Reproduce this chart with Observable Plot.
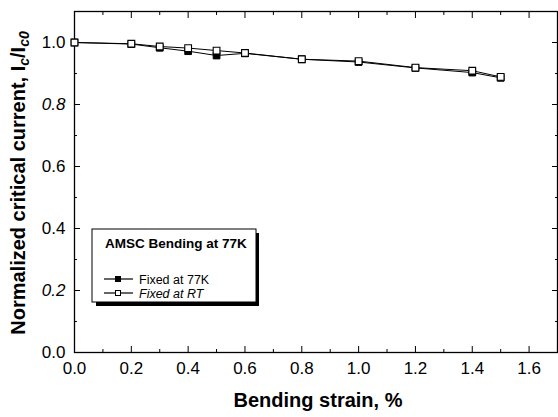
<!DOCTYPE html>
<html>
<head>
<meta charset="utf-8">
<script src="https://cdn.jsdelivr.net/npm/d3@7"></script>
<script src="https://cdn.jsdelivr.net/npm/@observablehq/plot@0.6"></script>
<style>
  html, body { margin: 0; padding: 0; background: #fff; }
  #chart svg { display: block; }
</style>
</head>
<body>
<div id="chart"></div>
<script>
// Data
const strain = [0, 0.2, 0.3, 0.4, 0.5, 0.6, 0.8, 1.0, 1.2, 1.4, 1.5];
const fixed77K = [1.0, 0.995, 0.983, 0.972, 0.958, 0.965, 0.946, 0.937, 0.918, 0.903, 0.886];
const fixedRT = [1.0, 0.996, 0.987, 0.982, 0.974, 0.966, 0.946, 0.940, 0.919, 0.909, 0.889];
const xTicks = [0, 0.2, 0.4, 0.6, 0.8, 1.0, 1.2, 1.4, 1.6];
const xMinor = [0.1, 0.3, 0.5, 0.7, 0.9, 1.1, 1.3, 1.5];
const yTicks = [0, 0.2, 0.4, 0.6, 0.8, 1.0];
const yMinor = [0.1, 0.3, 0.5, 0.7, 0.9];
const italicYLabels = ["0.8", "0.2"];
const seriesNames = ["Fixed at 77K", "Fixed at RT"];
const legendTitle = "AMSC Bending at 77K";

const d77 = strain.map((s, i) => ({x: s, y: fixed77K[i]}));
const dRT = strain.map((s, i) => ({x: s, y: fixedRT[i]}));

const font = "'Liberation Sans', Arial, Helvetica, sans-serif";

const chart = Plot.plot({
  width: 558,
  height: 417,
  marginLeft: 74,
  marginRight: 1,
  marginTop: 11,
  marginBottom: 65,
  style: {fontFamily: font, fontSize: "17px", background: "#fff", color: "#000"},
  x: {domain: [0, 1.7]},
  y: {domain: [0, 1.1]},
  marks: [
    Plot.axisX({ticks: xTicks, tickSize: -6, tickFormat: d => d.toFixed(1), fontSize: 17, label: null}),
    Plot.axisX({ticks: xMinor, tickSize: -3, text: null, label: null}),
    Plot.axisX({anchor: "top", ticks: xTicks, tickSize: -6, text: null, label: null}),
    Plot.axisX({anchor: "top", ticks: xMinor, tickSize: -3, text: null, label: null}),
    Plot.axisY({ticks: yTicks, tickSize: -6, tickFormat: d => d.toFixed(1), fontSize: 17, label: null}),
    Plot.axisY({ticks: yMinor, tickSize: -3, text: null, label: null}),
    Plot.axisY({anchor: "right", ticks: yTicks, tickSize: -6, text: null, label: null}),
    Plot.axisY({anchor: "right", ticks: yMinor, tickSize: -3, text: null, label: null}),
    Plot.frame({stroke: "#000", strokeWidth: 1.3}),
    Plot.line(d77, {x: "x", y: "y", stroke: "#000", strokeWidth: 1}),
    Plot.dot(d77, {x: "x", y: "y", symbol: "square", r: 3.8, fill: "#000", stroke: "#000", strokeWidth: 1}),
    Plot.line(dRT, {x: "x", y: "y", stroke: "#000", strokeWidth: 1}),
    Plot.dot(dRT, {x: "x", y: "y", symbol: "square", r: 3.8, fill: "#fff", stroke: "#000", strokeWidth: 1.1})
  ]
});

document.getElementById("chart").appendChild(chart);

const svg = d3.select(chart);

// italic y tick labels as in the reference
svg.selectAll('g[aria-label="y-axis tick label"] text')
  .filter(function() { return italicYLabels.includes(this.textContent.trim()); })
  .style("font-style", "italic");

// X axis label
svg.append("text")
  .attr("x", 318).attr("y", 407)
  .attr("text-anchor", "middle")
  .attr("font-family", font).attr("font-size", 20).attr("font-weight", "bold")
  .text("Bending strain, %");

// Y axis label with subscripts
const yl = svg.append("text")
  .attr("transform", "translate(25,183) rotate(-90)")
  .attr("text-anchor", "middle")
  .attr("font-family", font).attr("font-size", 20).attr("font-weight", "bold");
yl.append("tspan").text("Normalized critical current, I");
yl.append("tspan").attr("font-size", 14).attr("font-style", "italic").attr("dy", 4).text("c");
yl.append("tspan").attr("dy", -4).text("/I");
yl.append("tspan").attr("font-size", 14).attr("font-style", "italic").attr("dy", 4).text("c0");

// Legend
const lg = svg.append("g").attr("font-family", font).attr("text-anchor", "start");
lg.append("rect").attr("x", 96).attr("y", 233).attr("width", 163).attr("height", 73).attr("fill", "#000");
lg.append("rect").attr("x", 92).attr("y", 229).attr("width", 164).attr("height", 73)
  .attr("fill", "#fff").attr("stroke", "#000").attr("stroke-width", 1);
lg.append("text").attr("x", 105).attr("y", 248).attr("text-anchor", "start")
  .attr("font-size", 13.5).attr("font-weight", "bold").text(legendTitle);
const rows = [{y: 279, fill: "#000", italic: false}, {y: 293, fill: "#fff", italic: true}];
rows.forEach((r, i) => {
  lg.append("line").attr("x1", 104).attr("x2", 133).attr("y1", r.y).attr("y2", r.y)
    .attr("stroke", "#000").attr("stroke-width", 1.2);
  lg.append("rect").attr("x", 115.5).attr("y", r.y - 2.5).attr("width", 5).attr("height", 5)
    .attr("fill", r.fill).attr("stroke", "#000").attr("stroke-width", 1);
  lg.append("text").attr("x", 139).attr("y", r.y + 4.5).attr("text-anchor", "start")
    .attr("font-size", 12.5).attr("font-style", r.italic ? "italic" : "normal")
    .text(seriesNames[i]);
});
</script>
</body>
</html>
